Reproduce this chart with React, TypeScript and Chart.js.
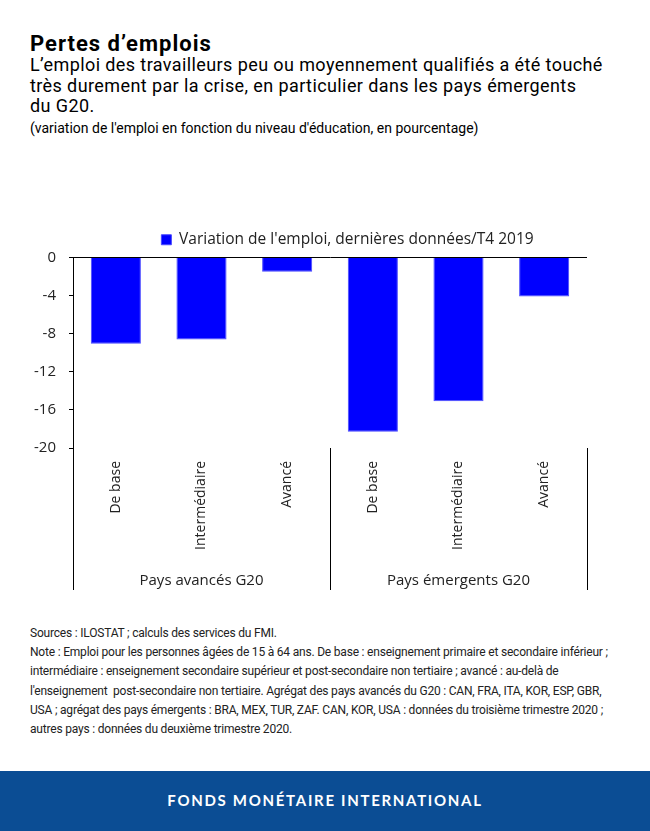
import React, { useEffect, useRef } from "react";
import { Chart, registerables } from "chart.js";

Chart.register(...registerables);

const categories = ["De base", "Intermédiaire", "Avancé", "De base", "Intermédiaire", "Avancé"];
const groups = ["Pays avancés G20", "Pays émergents G20"];
const groupSize = 3;
const seriesLabel = "Variation de l'emploi, dernières données/T4 2019";
const values = [-9.05, -8.6, -1.5, -18.3, -15.1, -4.1];
const yMin = -20;
const yMax = 0;
const yStep = 4;

const sourceLines = [
  "Sources : ILOSTAT ; calculs des services du FMI.",
  "Note : Emploi pour les personnes âgées de 15 à 64 ans. De base : enseignement primaire et secondaire inférieur ;",
  "intermédiaire : enseignement secondaire supérieur et post-secondaire non tertiaire ; avancé : au-delà de",
  "l'enseignement  post-secondaire non tertiaire. Agrégat des pays avancés du G20 : CAN, FRA, ITA, KOR, ESP, GBR,",
  "USA ; agrégat des pays émergents : BRA, MEX, TUR, ZAF. CAN, KOR, USA : données du troisième trimestre 2020 ;",
  "autres pays : données du deuxième trimestre 2020.",
];

const chartFont = "'Open Sans', 'DejaVu Sans', sans-serif";
const legendShift = 54;

const legendShiftPlugin = {
  id: "legendShift",
  afterLayout(chart: any) {
    if (chart.legend) {
      chart.legend.left += legendShift;
      chart.legend.right += legendShift;
    }
  },
};

const groupPlugin = {
  id: "groupPlugin",
  afterDraw(chart: any) {
    const x = chart.scales.x;
    const area = chart.chartArea;
    const ctx = chart.ctx;
    ctx.save();
    ctx.strokeStyle = "#000";
    ctx.lineWidth = 1;
    const n = categories.length;
    const bounds: number[] = [];
    for (let i = 0; i <= n; i += groupSize) bounds.push(i - 0.5);
    bounds.forEach((b) => {
      const px = Math.round(x.getPixelForValue(b)) + 0.5;
      ctx.beginPath();
      ctx.moveTo(px, area.bottom);
      ctx.lineTo(px, x.bottom);
      ctx.stroke();
    });
    ctx.fillStyle = "#222";
    ctx.font = `15px ${chartFont}`;
    ctx.textAlign = "center";
    ctx.textBaseline = "middle";
    groups.forEach((g, gi) => {
      const c = x.getPixelForValue(gi * groupSize + (groupSize - 1) / 2);
      ctx.fillText(g, c, x.bottom - 9);
    });
    ctx.restore();
  },
};

function ChartCanvas() {
  const ref = useRef<HTMLCanvasElement | null>(null);
  useEffect(() => {
    if (!ref.current) return;
    const chart = new Chart(ref.current, {
      type: "bar",
      data: {
        labels: categories,
        datasets: [
          {
            label: seriesLabel,
            data: values,
            backgroundColor: "#0000ff",
            borderColor: "#4848ff",
            borderWidth: 1,
            barPercentage: 0.585,
            categoryPercentage: 1,
          },
        ],
      },
      options: {
        animation: false,
        responsive: false,
        maintainAspectRatio: false,
        layout: { padding: { left: 0, right: 63, top: 0, bottom: 10 } },
        plugins: {
          legend: {
            display: true,
            position: "top",
            labels: {
              boxWidth: 10,
              boxHeight: 10,
              color: "#222",
              padding: 10,
              font: { family: chartFont, size: 15.5 },
            },
          },
          tooltip: { enabled: false },
        },
        scales: {
          x: {
            grid: { display: false, drawTicks: false },
            border: { display: false },
            ticks: {
              color: "#222",
              font: { family: chartFont, size: 14 },
              minRotation: 90,
              maxRotation: 90,
              padding: 13,
              autoSkip: false,
            },
            afterFit(scale: any) {
              scale.height = 142;
            },
          },
          y: {
            min: yMin,
            max: yMax,
            border: { display: true, color: "#000", width: 1 },
            grid: {
              color: (c: any) => (c.tick && c.tick.value === 0 ? "#000" : "rgba(0,0,0,0)"),
              tickColor: "#000",
              tickLength: 4,
              drawTicks: true,
            },
            ticks: {
              stepSize: yStep,
              color: "#222",
              font: { family: chartFont, size: 15 },
              padding: 13,
            },
            afterFit(scale: any) {
              scale.width = 73;
            },
          },
        },
      },
      plugins: [legendShiftPlugin, groupPlugin],
    });
    return () => chart.destroy();
  }, []);
  return (
    <canvas
      ref={ref}
      width={650}
      height={378}
      style={{ position: "absolute", left: 0, top: 222, width: 650, height: 378 }}
    />
  );
}

export default function App() {
  return (
    <div
      style={{
        position: "absolute",
        left: 0,
        top: 0,
        width: 650,
        height: 831,
        background: "#fff",
        overflow: "hidden",
        fontFamily: "Roboto, 'Noto Sans', sans-serif",
        color: "#000",
      }}
    >
      <div
        style={{
          position: "absolute",
          left: 30,
          top: 30,
          fontSize: 22,
          fontWeight: 700,
          lineHeight: "28px",
          letterSpacing: 1,
          whiteSpace: "nowrap",
        }}
      >
        Pertes d’emplois
      </div>
      <div style={{ position: "absolute", left: 30, top: 55, width: 620, fontSize: 18, lineHeight: "20.5px", letterSpacing: 0.4 }}>
        <div style={{ whiteSpace: "nowrap" }}>L’emploi des travailleurs peu ou moyennement qualifiés a été touché</div>
        <div style={{ whiteSpace: "nowrap" }}>très durement par la crise, en particulier dans les pays émergents</div>
        <div style={{ whiteSpace: "nowrap" }}>du G20.</div>
      </div>
      <div style={{ position: "absolute", left: 30, top: 119, fontSize: 14, lineHeight: "18px", whiteSpace: "nowrap" }}>
        (variation de l'emploi en fonction du niveau d'éducation, en pourcentage)
      </div>
      <ChartCanvas />
      <div
        style={{
          position: "absolute",
          left: 30,
          top: 624,
          fontSize: 12,
          lineHeight: "19.2px",
          color: "#222",
          letterSpacing: -0.2,
        }}
      >
        {sourceLines.map((l, i) => (
          <div key={i} style={{ whiteSpace: "pre" }}>
            {l}
          </div>
        ))}
      </div>
      <div
        style={{
          position: "absolute",
          left: 0,
          top: 771,
          width: 650,
          height: 60,
          background: "#0b4d94",
          color: "#fff",
          display: "flex",
          alignItems: "center",
          justifyContent: "center",
          fontFamily: "Lato, 'Open Sans', sans-serif",
          fontWeight: 700,
          fontSize: 15,
          letterSpacing: 1.7,
          paddingBottom: 3,
          boxSizing: "border-box",
          whiteSpace: "nowrap",
        }}
      >
        FONDS MONÉTAIRE INTERNATIONAL
      </div>
    </div>
  );
}
